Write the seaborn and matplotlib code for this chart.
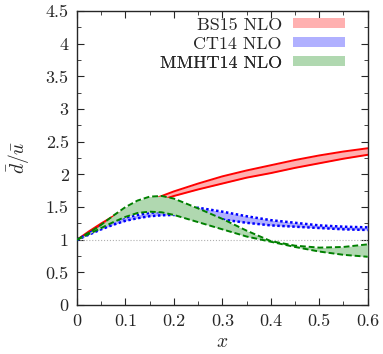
import matplotlib
matplotlib.use('Agg')
import matplotlib.pyplot as plt
import seaborn as sns
from matplotlib.patches import Patch
from matplotlib.ticker import MultipleLocator

# x grid
x_vals = [0.0, 0.025, 0.05, 0.075, 0.1, 0.125, 0.15, 0.175, 0.2,
          0.25, 0.3, 0.35, 0.4, 0.45, 0.5, 0.55, 0.6]

# BS15 NLO band
bs15_hi = [1.0, 1.13, 1.25, 1.36, 1.45, 1.53, 1.60, 1.67, 1.74,
           1.86, 1.97, 2.06, 2.14, 2.22, 2.29, 2.35, 2.40]
bs15_lo = [1.0, 1.11, 1.22, 1.32, 1.41, 1.48, 1.55, 1.61, 1.67,
           1.77, 1.86, 1.95, 2.02, 2.10, 2.17, 2.24, 2.30]

# CT14 NLO band
ct14_hi = [1.0, 1.10, 1.20, 1.28, 1.34, 1.38, 1.41, 1.43, 1.45,
           1.49, 1.43, 1.36, 1.30, 1.26, 1.22, 1.20, 1.19]
ct14_lo = [1.0, 1.08, 1.16, 1.23, 1.29, 1.33, 1.36, 1.375, 1.38,
           1.36, 1.31, 1.26, 1.22, 1.20, 1.18, 1.16, 1.15]

# MMHT14 NLO band
mmht_hi = [1.0, 1.11, 1.23, 1.37, 1.50, 1.60, 1.66, 1.67, 1.63,
           1.48, 1.32, 1.14, 0.98, 0.91, 0.88, 0.89, 0.93]
mmht_lo = [1.0, 1.09, 1.18, 1.27, 1.35, 1.41, 1.43, 1.42, 1.38,
           1.27, 1.16, 1.05, 0.97, 0.89, 0.82, 0.77, 0.74]

labels = ['BS15 NLO', 'CT14 NLO', 'MMHT14 NLO']
x_ticks = [0, 0.1, 0.2, 0.3, 0.4, 0.5, 0.6]
x_ticklabels = ['0', '0.1', '0.2', '0.3', '0.4', '0.5', '0.6']
y_ticks = [0, 0.5, 1, 1.5, 2, 2.5, 3, 3.5, 4, 4.5]
y_ticklabels = ['0', '0.5', '1', '1.5', '2', '2.5', '3', '3.5', '4', '4.5']

sns.set_style("ticks")
plt.rcParams['font.family'] = 'cmr10'
plt.rcParams['mathtext.fontset'] = 'cm'
plt.rcParams['axes.formatter.use_mathtext'] = True

fig = plt.figure(figsize=(3.83, 3.54), dpi=100)
ax = fig.add_axes([0.201, 0.138, 0.759, 0.831])

ax.axhline(1.0, color='#b0b0b0', ls=':', lw=0.8, zorder=1)

bands = [
    (bs15_lo, bs15_hi, '#ffb0b0', '#ff0000', '-', 1.4),
    (ct14_lo, ct14_hi, '#b0b0ff', '#0000ff', (0, (1, 1)), 1.8),
    (mmht_lo, mmht_hi, '#b0d8b0', '#008000', (0, (3, 1.5)), 1.4),
]
handles = []
for i, (lo, hi, fill, edge, ls, lw) in enumerate(bands):
    ax.fill_between(x_vals, lo, hi, color=fill, lw=0, zorder=2 + i)
    sns.lineplot(x=x_vals, y=lo, ax=ax, color=edge, linestyle=ls, lw=lw, zorder=2 + i)
    sns.lineplot(x=x_vals, y=hi, ax=ax, color=edge, linestyle=ls, lw=lw, zorder=2 + i)
    handles.append(Patch(facecolor=fill, edgecolor='none'))

ax.set_xlim(0, 0.6)
ax.set_ylim(0, 4.5)
ax.set_xticks(x_ticks)
ax.set_xticklabels(x_ticklabels)
ax.set_yticks(y_ticks)
ax.set_yticklabels(y_ticklabels)
ax.xaxis.set_minor_locator(MultipleLocator(0.05))
ax.yaxis.set_minor_locator(MultipleLocator(0.25))
ax.tick_params(which='both', direction='in', top=True, right=True, labelsize=13)
ax.tick_params(which='major', length=5, pad=6)
ax.tick_params(which='minor', length=3)
for s in ax.spines.values():
    s.set_linewidth(1.0)

ax.set_xlabel('$x$', fontsize=14, labelpad=3)
ax.set_ylabel(r'$\bar{d}/\bar{u}$', fontsize=14, labelpad=10)

# one legend per entry so the labels line up on the right, gnuplot style
rows = [0.952, 0.888, 0.823]
for h, lab, yy in zip(handles, labels, rows):
    leg = ax.legend([h], [lab], loc='center right', frameon=False, markerfirst=False,
                    handlelength=2.9, handleheight=0.5, fontsize=13, borderpad=0,
                    borderaxespad=0, handletextpad=0.6, bbox_to_anchor=(0.922, yy))
    ax.add_artist(leg)

fig.savefig('out.png', dpi=100)
